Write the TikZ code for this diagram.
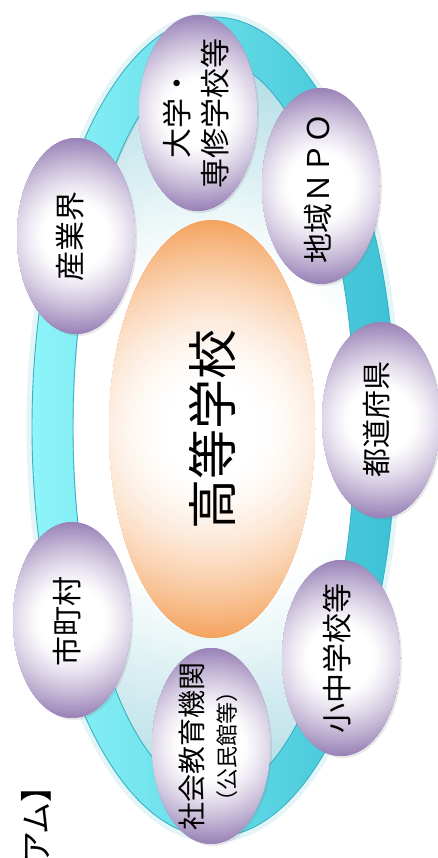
\documentclass[tikz,border=0pt]{standalone}
\usepackage{fontspec}
\setmainfont{Noto Sans CJK JP}
\usetikzlibrary{shapes.geometric,shadows,calc}
\definecolor{ringL}{HTML}{8EF5F9}
\definecolor{ringR}{HTML}{3CC1D5}
\definecolor{ringEdge}{HTML}{38B2C4}
\definecolor{innerTeal}{HTML}{B0DDE4}
\definecolor{purp}{HTML}{9A83B8}
\definecolor{orng}{HTML}{F5A460}
\definecolor{halo}{HTML}{E4F5F7}
% concentric-step radial gradient: centre, radius, colour, white fraction, exponent
\newcommand{\radgrad}[5]{%
  \fill[#3] ($(#1)+(-600,-600)$) rectangle ($(#1)+(600,600)$);
  \foreach \i in {0,...,59}{%
    \pgfmathsetmacro\ff{1-\i/60}%
    \pgfmathsetmacro\pp{100*max(0,(\ff-#4)/(1-#4))^#5}%
    \fill[#3!\pp!white] (#1) circle ({\ff*#2});
  }}
\tikzset{
  satE/.style={ellipse, draw=none, inner sep=0pt, outer sep=0pt,
    minimum width=118pt, minimum height=196pt,
    drop shadow={opacity=0.18, shadow xshift=2pt, shadow yshift=-2pt},
    path picture={\radgrad{path picture bounding box.center}{98}{purp}{0.33}{1.25}}},
  satT/.style={rotate=90, align=center, inner sep=0pt, font=\fontsize{30}{38}\selectfont},
}
\begin{document}
\begin{tikzpicture}[x=1pt,y=-1pt]
\useasboundingbox (0,0) rectangle (438,858);
\clip (0,0) rectangle (438,858);
\fill[white] (0,0) rectangle (438,858);
\coordinate (C) at (214,427);
% ring halo
\draw[halo, line width=7pt] (C) ellipse [x radius=184, y radius=412];
% inner area
\begin{scope}
  \clip (C) ellipse [x radius=142, y radius=368];
  \radgrad{C}{368}{innerTeal}{0.45}{1}
  \draw[black!25, line width=5pt, opacity=0.5] (216,429) ellipse [x radius=145, y radius=371];
\end{scope}
% ring
\shade[even odd rule, left color=ringL, right color=ringR]
  (C) ellipse [x radius=182, y radius=410]
  (C) ellipse [x radius=141, y radius=367];
\draw[ringEdge, line width=0.9pt] (C) ellipse [x radius=182, y radius=410];
\draw[ringEdge, line width=0.9pt] (C) ellipse [x radius=141, y radius=367];
% centre
\node[ellipse, draw=none, inner sep=0pt, minimum width=206pt, minimum height=418pt,
  path picture={\radgrad{path picture bounding box.center}{209}{orng}{0.22}{1.6}}]
  (hsE) at (212,429) {};
\node[rotate=90, inner sep=0pt, font=\fontsize{50}{56}\selectfont] (hsT) at (hsE.center) {高等学校};
% satellites
\node[satE] (e1) at (76,236) {};
\node[satT] (t1) at (70,236) {産業界};
\node[satE] (e2) at (198,113) {};
\node[satT] (t2) at (196,114) {大学・\\専修学校等};
\node[satE] (e3) at (321,186) {};
\node[satT] (t3) at (318,189) {地域ＮＰＯ};
\node[satE] (e4) at (381,420) {};
\node[satT, font=\fontsize{29}{36}\selectfont] (t4) at (377,419) {都道府県};
\node[satE] (e5) at (341,658) {};
\node[satT] (t5) at (337,658) {小中学校等};
\node[satE] (e6) at (211,746) {};
\node[satT, font=\fontsize{28}{33}\selectfont] (t6) at (208,746) {社会教育機関\\{\fontsize{22}{26}\selectfont（公民館等）}};
\node[satE] (e7) at (72,620) {};
\node[satT] (t7) at (67,621) {市町村};
% cropped title
\node[rotate=90, anchor=east, inner sep=0pt, font=\fontsize{32}{36}\selectfont] (title) at (36,770) {アム】};
\end{tikzpicture}
\end{document}
